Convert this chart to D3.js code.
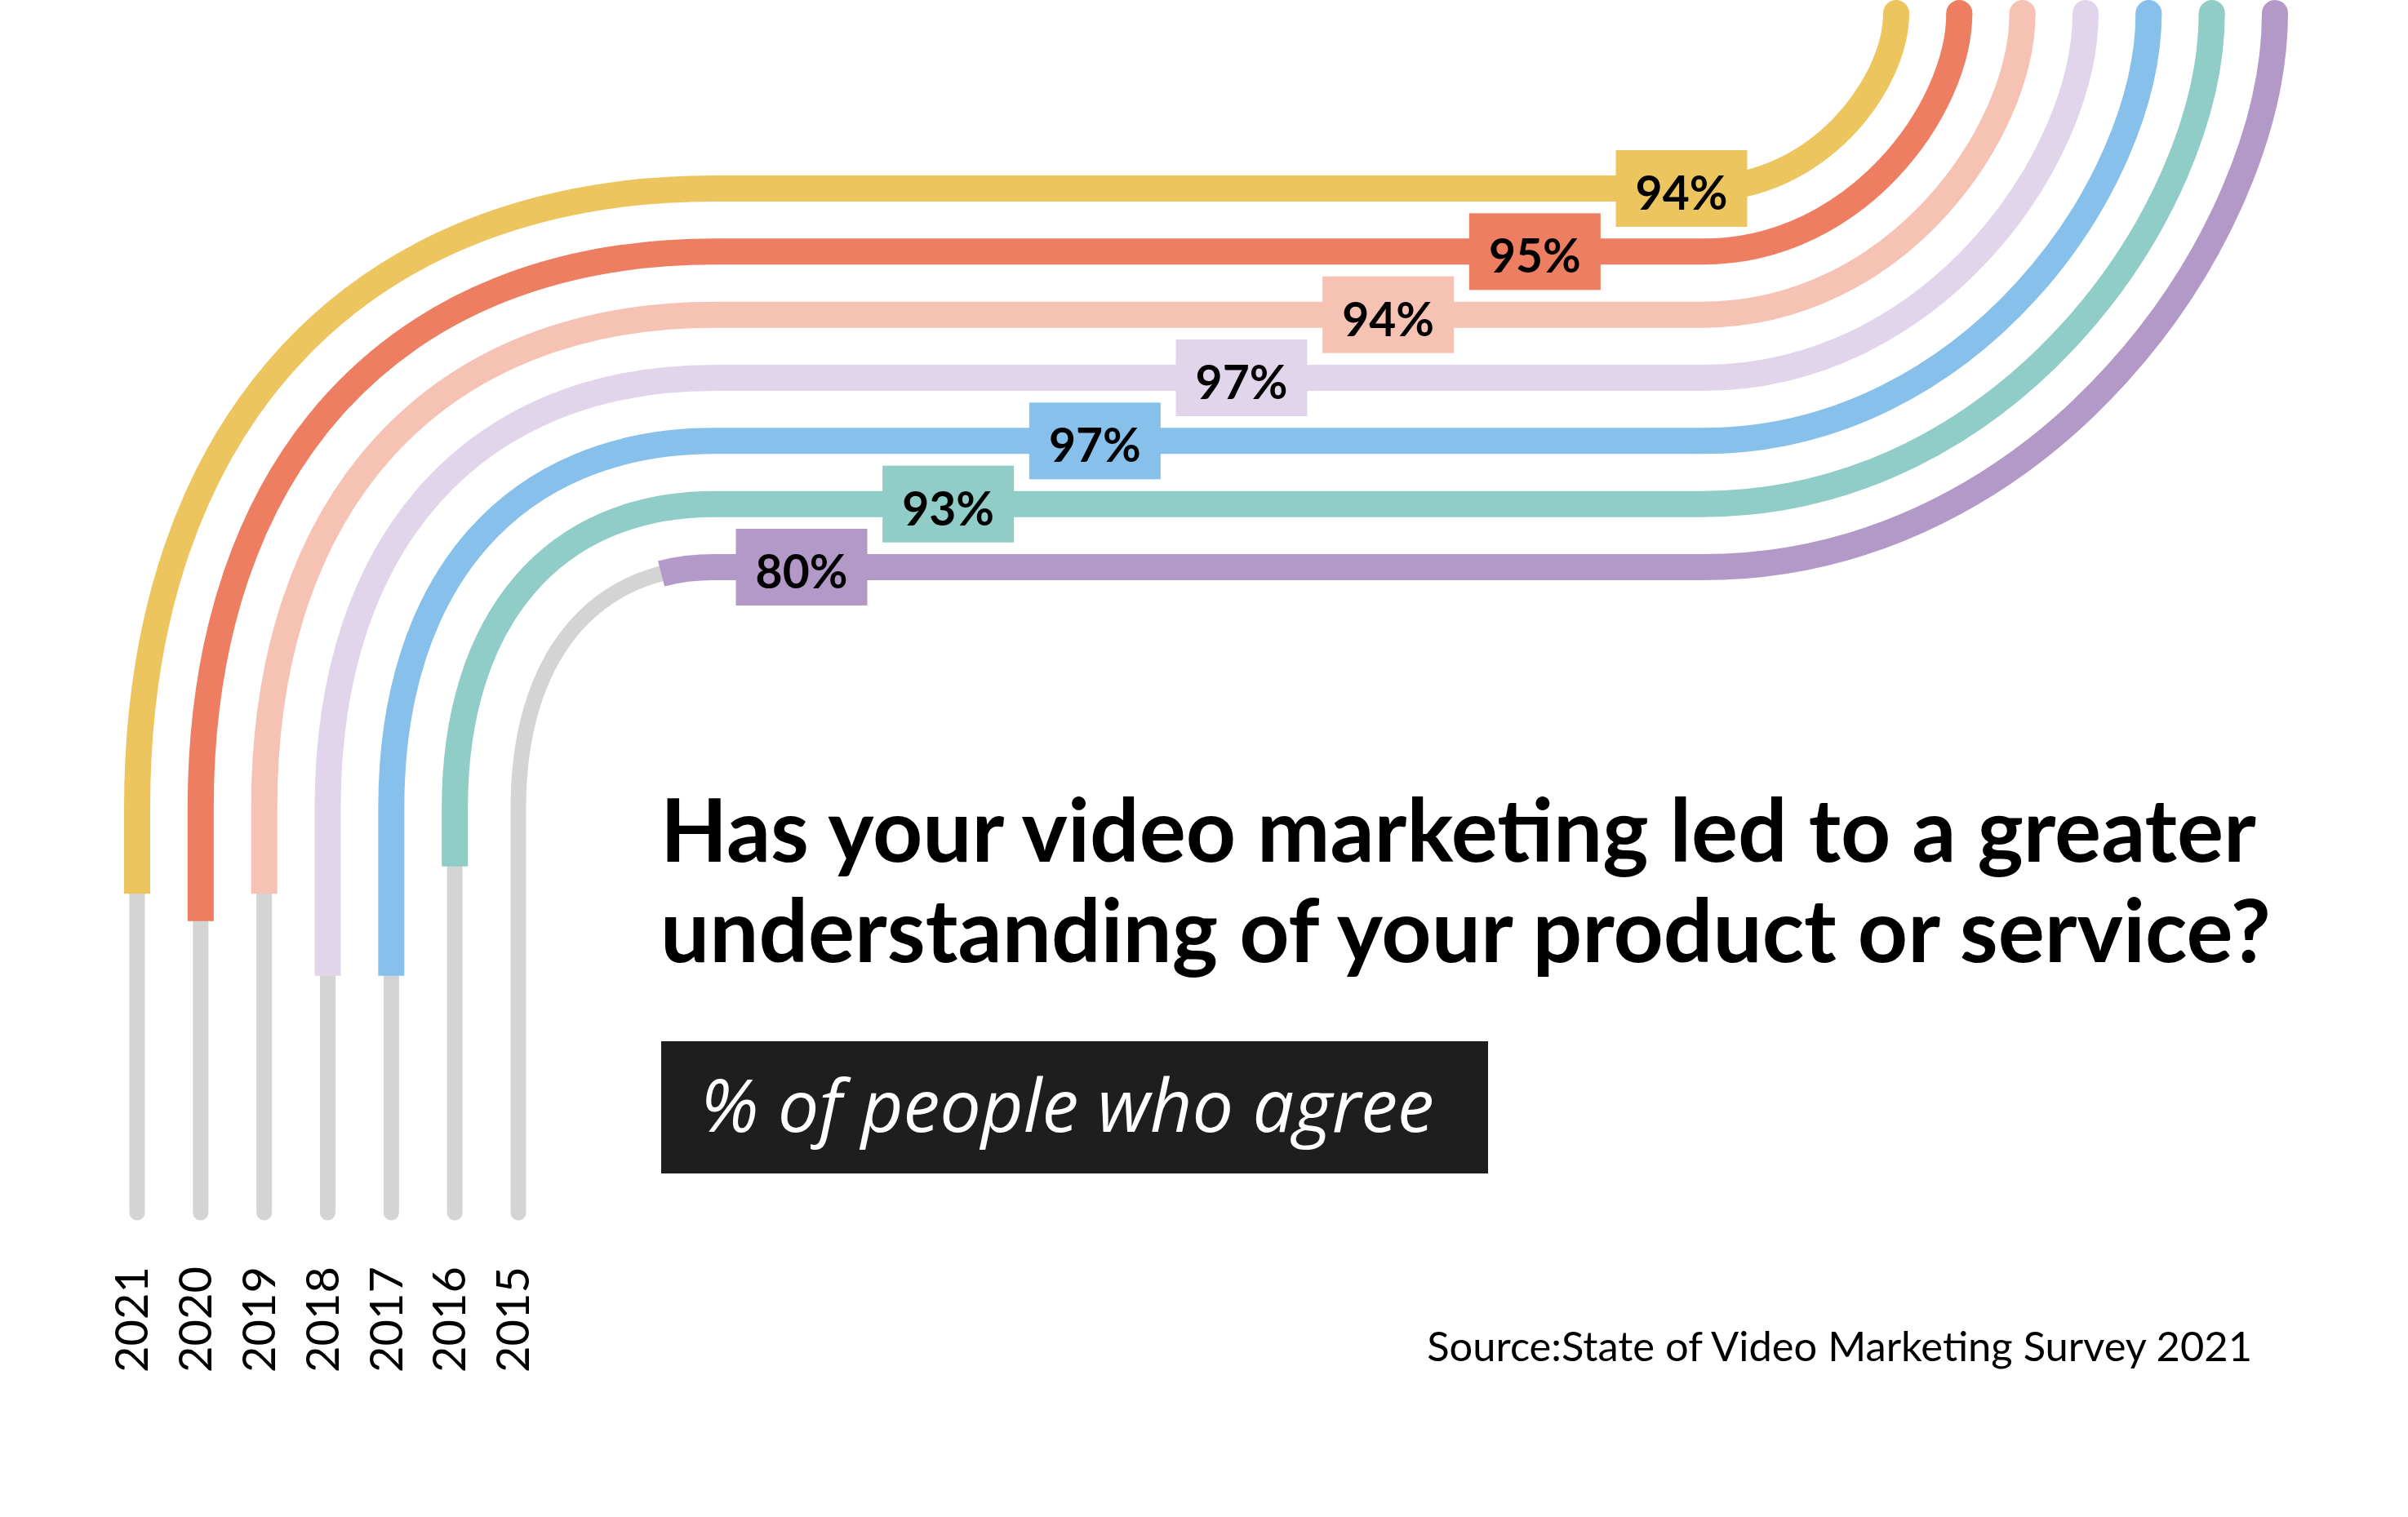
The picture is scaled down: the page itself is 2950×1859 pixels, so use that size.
<!DOCTYPE html>
<head>
<meta charset="utf-8">
<title>Video marketing and product understanding</title>
<script src="https://cdn.jsdelivr.net/npm/d3@7"></script>
<style>
body { margin: 0; background: #fff; }
text { font-family: Lato, "Noto Sans", sans-serif; }
</style>
</head>
<body>
<script>
// data, outermost track first
var years  = ["2021", "2020", "2019", "2018", "2017", "2016", "2015"];
var values = [94, 95, 94, 97, 97, 93, 80];
var colors = ["#edc55e", "#ee7e62", "#f5c2b4", "#e1d5eb", "#87c0ea", "#8fcdc6", "#b399c8"];
var titleLines = ["Has your video marketing led to a greater", "understanding of your product or service?"];
var subtitle = "% of people who agree";
var source = "Source:State of Video Marketing Survey 2021";

var width = 2950, height = 1859;
var svg = d3.select("body").append("svg")
	.attr("width", width)
	.attr("height", height);

// where each track sits
var xLeft  = d3.scalePoint().domain(years).range([168, 635]);
var xRight = d3.scalePoint().domain(years).range([2323, 2787]);
var yLevel = d3.scalePoint().domain(years).range([231, 695]);
var xLabel = d3.scalePoint().domain(years).range([2060, 982]);
// grey rest of the track left over after the coloured part
var restScale = d3.scaleLinear().domain([80, 100]).range([860, 190]);

var yTop = 16, yBottom = 1486, bendRight = 2086, bendLeft = 875, bendDown = 990;

function trackPath(yr) {
	var xr = xRight(yr), xl = xLeft(yr), yh = yLevel(yr);
	var p = d3.path();
	p.moveTo(xr, yTop);
	p.bezierCurveTo(xr, yh - 0.6 * (yh - yTop), bendRight + 0.6 * (xr - bendRight), yh, bendRight, yh);
	p.lineTo(bendLeft, yh);
	p.bezierCurveTo(bendLeft - 0.62 * (bendLeft - xl), yh, xl, bendDown - 0.62 * (bendDown - yh), xl, bendDown);
	p.lineTo(xl, yBottom);
	return p.toString();
}

var rows = years.map(function(y, i) { return {year: y, value: values[i], color: colors[i]}; });

// grey full tracks
svg.selectAll("path.rest").data(rows).enter().append("path")
	.attr("class", "rest")
	.attr("d", function(d) { return trackPath(d.year); })
	.attr("fill", "none")
	.attr("stroke", "#d4d4d4")
	.attr("stroke-width", 19)
	.attr("stroke-linecap", "round");

// coloured part
var tracks = svg.selectAll("path.track").data(rows).enter().append("path")
	.attr("class", "track")
	.attr("d", function(d) { return trackPath(d.year); })
	.attr("fill", "none")
	.attr("stroke", function(d) { return d.color; })
	.attr("stroke-width", 32)
	.attr("stroke-linecap", "butt")
	.attr("stroke-dasharray", function(d) {
		var L = this.getTotalLength();
		return (L - restScale(d.value)) + " " + L;
	});

// round tops
svg.selectAll("circle.cap").data(rows).enter().append("circle")
	.attr("class", "cap")
	.attr("cx", function(d) { return xRight(d.year); })
	.attr("cy", yTop)
	.attr("r", 16)
	.attr("fill", function(d) { return d.color; });

// value labels
var lab = svg.selectAll("g.lab").data(rows).enter().append("g")
	.attr("class", "lab")
	.attr("transform", function(d) { return "translate(" + xLabel(d.year) + "," + yLevel(d.year) + ")"; });
lab.append("rect")
	.attr("x", -80.5).attr("y", -47)
	.attr("width", 161).attr("height", 94)
	.attr("fill", function(d) { return d.color; });
lab.append("text")
	.attr("y", 26)
	.attr("text-anchor", "middle")
	.style("font-size", "57px")
	.style("font-weight", 700)
	.attr("fill", "#000")
	.text(function(d) { return d.value + "%"; });

// year labels
svg.selectAll("text.year").data(rows).enter().append("text")
	.attr("class", "year")
	.attr("transform", function(d) { return "translate(" + (xLeft(d.year) - 7) + ",1552) rotate(-90)"; })
	.attr("text-anchor", "end")
	.attr("dy", "0.36em")
	.style("font-size", "56px")
	.attr("fill", "#000")
	.text(function(d) { return d.year; });

// title
var title = svg.selectAll("text.title").data(titleLines).enter().append("text")
	.attr("class", "title")
	.attr("x", 809)
	.attr("y", function(d, i) { return 1056 + i * 123; })
	.style("font-size", "100px")
	.style("font-weight", 700)
	.attr("fill", "#000")
	.text(function(d) { return d; });
var w0 = title.nodes()[0].getComputedTextLength();
title.style("font-size", (100 * 1955 / w0) + "px");

// subtitle box
svg.append("rect")
	.attr("x", 810).attr("y", 1276)
	.attr("width", 1013).attr("height", 162)
	.attr("fill", "#1e1e1e");
var sub = svg.append("text")
	.attr("x", 858).attr("y", 1387)
	.style("font-family", "'Open Sans', sans-serif")
	.style("font-style", "italic")
	.style("font-size", "80px")
	.attr("fill", "#fff")
	.text(subtitle);
sub.style("font-size", (80 * 899 / sub.node().getComputedTextLength()) + "px");

// source
var src = svg.append("text")
	.attr("x", 2759).attr("y", 1668)
	.attr("text-anchor", "end")
	.style("font-size", "46px")
	.attr("fill", "#000")
	.text(source);
src.style("font-size", (46 * 1011 / src.node().getComputedTextLength()) + "px");
</script>
</body>
